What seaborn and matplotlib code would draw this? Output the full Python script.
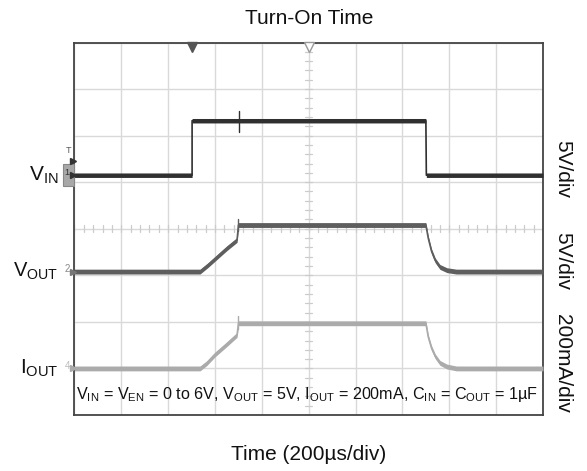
import numpy as np
import pandas as pd
import matplotlib
matplotlib.use("Agg")
import matplotlib.pyplot as plt
from matplotlib.patches import Rectangle
import seaborn as sns

# ---- data (time in divisions, level in divisions from bottom) ----
vin_t = [0.0, 2.51, 2.51, 7.50, 7.51, 10.0]
vin_v = [5.15, 5.15, 6.32, 6.32, 5.15, 5.15]
vin_spike_t = [3.51, 3.51]
vin_spike_v = [6.08, 6.52]

vout_t = [0.0, 2.68, 2.85, 3.05, 3.25, 3.47, 3.50, 7.50, 7.55, 7.62, 7.70, 7.80, 7.95, 8.15, 10.0]
vout_v = [3.08, 3.08, 3.22, 3.40, 3.58, 3.76, 4.08, 4.08, 3.80, 3.52, 3.32, 3.18, 3.11, 3.08, 3.08]
vout_spike_t = [3.50, 3.50]
vout_spike_v = [3.95, 4.22]

iout_t = [0.0, 2.68, 2.82, 3.00, 3.25, 3.47, 3.50, 7.50, 7.55, 7.62, 7.70, 7.80, 7.95, 8.15, 10.0]
iout_v = [1.00, 1.00, 1.11, 1.30, 1.52, 1.72, 1.97, 1.97, 1.68, 1.44, 1.26, 1.12, 1.04, 1.00, 1.00]
iout_spike_t = [3.50, 3.50]
iout_spike_v = [1.85, 2.12]

channels = ["VIN", "VOUT", "IOUT"]
scale_labels = ["5V/div", "5V/div", "200mA/div"]
title = "Turn-On Time"
xlabel = "Time (200µs/div)"
note = (r"V$_{\mathrm{IN}}$ = V$_{\mathrm{EN}}$ = 0 to 6V, V$_{\mathrm{OUT}}$ = 5V, "
        r"I$_{\mathrm{OUT}}$ = 200mA, C$_{\mathrm{IN}}$ = C$_{\mathrm{OUT}}$ = 1µF")

sns.set_theme(style="white")
plt.rcParams['font.family'] = ['Liberation Sans', 'DejaVu Sans']
plt.rcParams['mathtext.fontset'] = 'custom'
plt.rcParams['mathtext.rm'] = 'Liberation Sans'
plt.rcParams['mathtext.it'] = 'Liberation Sans'
plt.rcParams['mathtext.bf'] = 'Liberation Sans'

fig = plt.figure(figsize=(5.87, 4.71), dpi=100)
ax = fig.add_axes([74.5 / 587, 56 / 471, (543 - 74.5) / 587, (415 - 42.5) / 471])

ax.set_xlim(0, 10)
ax.set_ylim(0, 8)
ax.set_xticks(range(11))
ax.set_yticks(range(9))
ax.grid(True, color="#d9d9d9", linewidth=1.0)
ax.tick_params(length=0, labelbottom=False, labelleft=False)
ax.set_axisbelow(True)
for s in ax.spines.values():
    s.set_color("#444444")
    s.set_linewidth(1.3)

# graticule center minor ticks
for t in np.arange(0, 10.001, 0.2):
    ax.plot([t, t], [3.93, 4.07], color="#cccccc", lw=0.9, zorder=1)
for yv in np.arange(0, 8.001, 0.2):
    ax.plot([4.93, 5.07], [yv, yv], color="#cccccc", lw=0.9, zorder=1)

colors = {"VIN": "#303030", "VOUT": "#5e5e5e", "IOUT": "#ababab"}
band = {"VIN": 0.048, "VOUT": 0.052, "IOUT": 0.052}
series = {"VIN": (vin_t, vin_v, vin_spike_t, vin_spike_v),
          "VOUT": (vout_t, vout_v, vout_spike_t, vout_spike_v),
          "IOUT": (iout_t, iout_v, iout_spike_t, iout_spike_v)}
for ch in channels:
    t, v, st, sv = series[ch]
    df = pd.DataFrame({"t": t, "v": v})
    sns.lineplot(data=df, x="t", y="v", ax=ax, sort=False, estimator=None,
                 color=colors[ch], linewidth=1.2, zorder=3)
    va = np.array(v)
    ax.fill_between(t, va - band[ch], va + band[ch], color=colors[ch], lw=0, zorder=3)
    sdf = pd.DataFrame({"t": st, "v": sv})
    sns.lineplot(data=sdf, x="t", y="v", ax=ax, sort=False, estimator=None,
                 color=colors[ch], linewidth=1.0, zorder=3)
ax.set_xlabel("")
ax.set_ylabel("")

# trigger markers at the top edge
ax.plot([vin_t[1]], [7.91], marker="v", ms=7, color="#555555", clip_on=False, zorder=5)
ax.plot([5.0], [7.91], marker="v", ms=7, mfc="white", mec="#999999", mew=1, clip_on=False, zorder=5)

# channel markers at left edge
ax.add_patch(Rectangle((-0.245, 4.92), 0.235, 0.47, fc="#a8a8a8", ec="#888888", lw=0.8,
                       clip_on=False, zorder=6))
ax.text(-0.16, vin_v[0] + 0.05, "1", fontsize=6.5, color="#333333", ha="center", va="center",
        clip_on=False, zorder=7)
ax.text(-0.15, vout_v[0] + 0.05, "2", fontsize=7, color="#888888", ha="center", va="center", clip_on=False)
ax.text(-0.15, iout_v[0] + 0.05, "4", fontsize=7, color="#bbbbbb", ha="center", va="center", clip_on=False)
ax.text(-0.12, 5.68, "T", fontsize=6.5, color="#555555", ha="center", va="center", clip_on=False)
for yv, c in [(vin_v[0], "#333333"), (vout_v[0], "#777777"), (iout_v[0], "#aaaaaa"), (5.45, "#333333")]:
    ax.plot([-0.03], [yv], marker=">", ms=4, color=c, clip_on=False, zorder=7)

# channel names
ax.text(-0.35, vin_v[0], r"V$_{\mathrm{IN}}$", fontsize=15, ha="right", va="center", color="#111111", clip_on=False)
ax.text(-0.35, vout_v[0], r"V$_{\mathrm{OUT}}$", fontsize=14.5, ha="right", va="center", color="#111111", clip_on=False)
ax.text(-0.35, iout_v[0], r"I$_{\mathrm{OUT}}$", fontsize=15, ha="right", va="center", color="#111111", clip_on=False)

# note
ax.text(9.9, 0.45, note, fontsize=11.6, ha="right", va="center", color="#111111")

# scale labels on right
for lab, yp in zip(scale_labels, [169, 261, 363]):
    fig.text(563 / 587, 1 - yp / 471, lab, rotation=270, fontsize=15, ha="center", va="center", color="#111111")

fig.text(308.75 / 587, 1 - 18 / 471, title, fontsize=15, ha="center", va="center", color="#111111")
fig.text(308.75 / 587, 1 - 455 / 471, xlabel, fontsize=15, ha="center", va="center", color="#111111")

fig.savefig("out.png", dpi=100)
